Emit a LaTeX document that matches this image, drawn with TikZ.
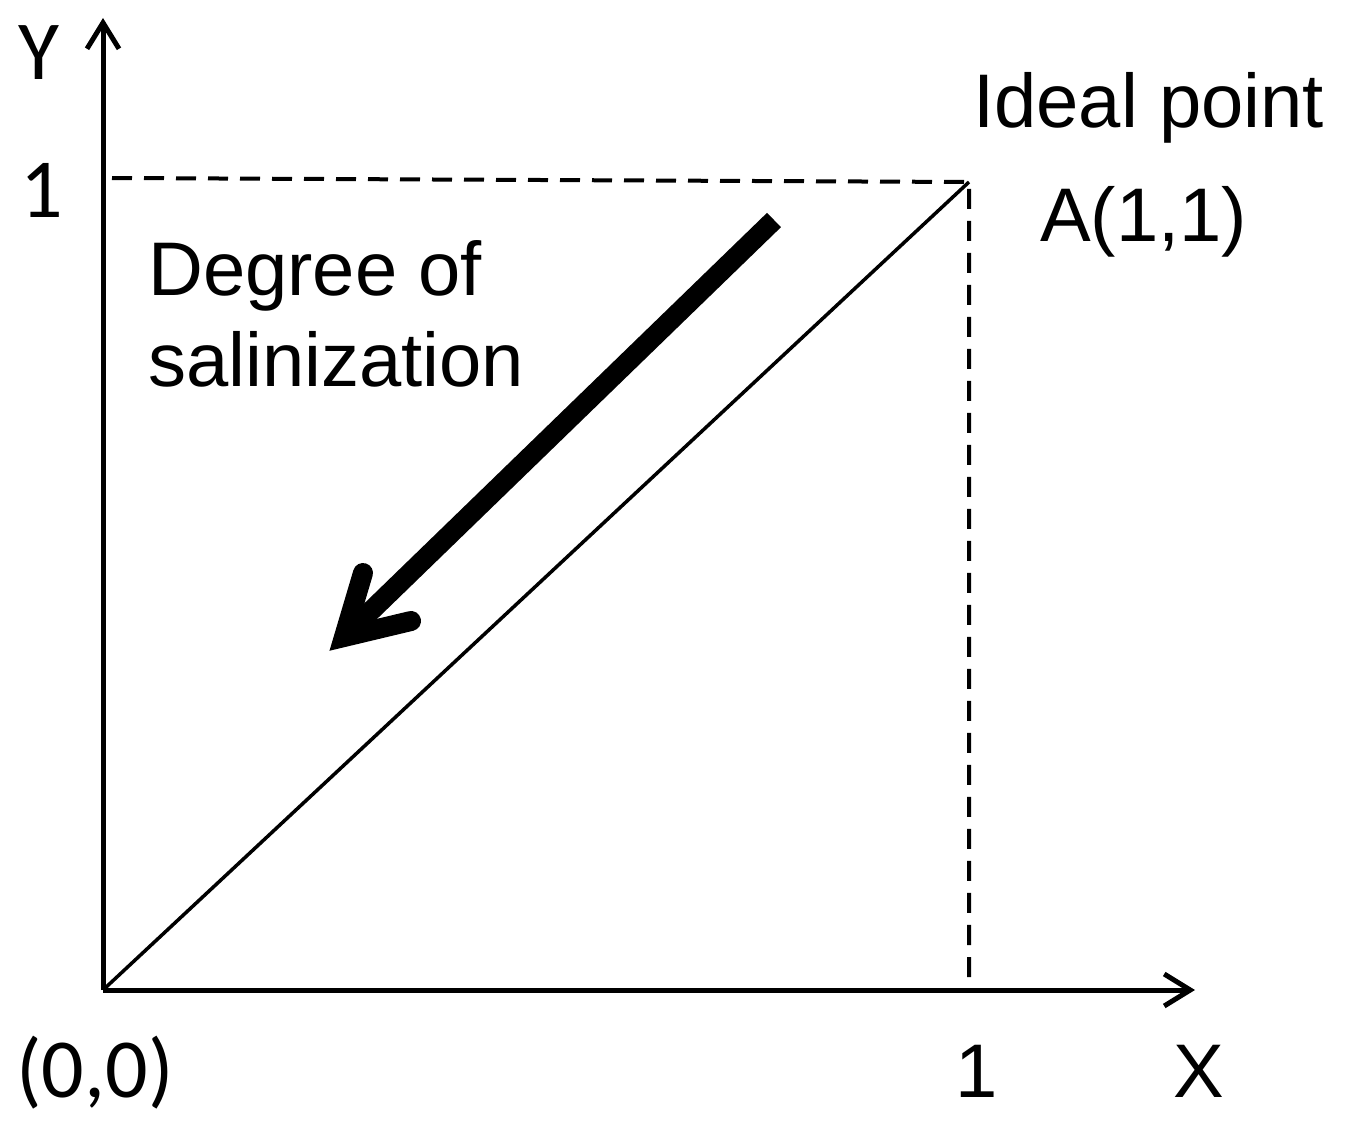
\documentclass[tikz,border=0pt]{standalone}
\usepackage{fontspec}
\setmainfont{Liberation Sans}
\newfontfamily\calib{Carlito}
\usetikzlibrary{arrows.meta}
\begin{document}
\begin{tikzpicture}[x=1pt,y=-1pt,
  axis/.style={line width=5pt,-{Straight Barb[length=26pt,width=32pt,line width=5pt]}},
  guide/.style={line width=4pt,dash pattern=on 20pt off 12pt},
  lab/.style={inner sep=0pt,anchor=base west,font=\fontsize{76}{91}\selectfont},
  clab/.style={inner sep=0pt,anchor=base,font=\calib\fontsize{84}{90}\selectfont}]
\useasboundingbox (0,0) rectangle (1347,1140);
\coordinate (O) at (103,990);
\coordinate (Ytop) at (103,18);
\coordinate (Xend) at (1195,990);
\coordinate (A) at (969,182);
\coordinate (Ay) at (112,178);
\coordinate (Ax) at (969,990);
\draw[axis] (O) -- (Ytop);
\draw[axis] (O) -- (Xend);
\draw[line width=3.5pt] (O) -- (A);
\draw[guide] (Ay) -- (A) -- (Ax);
% thick arrow
\coordinate (s) at (774,220);
\coordinate (v) at (344,637);
\coordinate (b1) at (363,573);
\coordinate (b2) at (411,621);
\draw[line width=20pt] (s) -- (v);
\draw[line width=20pt,line join=miter,line cap=round] (b1) -- (v) -- (b2);
% labels
\node[clab] (ylab) at (39,79) {Y};
\node[clab] (one1) at (42,217) {1};
\node[clab] (orig) at (95,1097) {(0,0)};
\node[lab] (one2) at (955,1097) {1};
\node[lab] (xlab) at (1173,1097) {X};
\node[lab] (ideal) at (973,127) {Ideal point};
\node[lab] (apt) at (1040,241) {A(1,1)};
\node[lab,align=left,anchor=north west] (deg) at (148,240) {Degree of\\salinization};
\end{tikzpicture}
\end{document}
